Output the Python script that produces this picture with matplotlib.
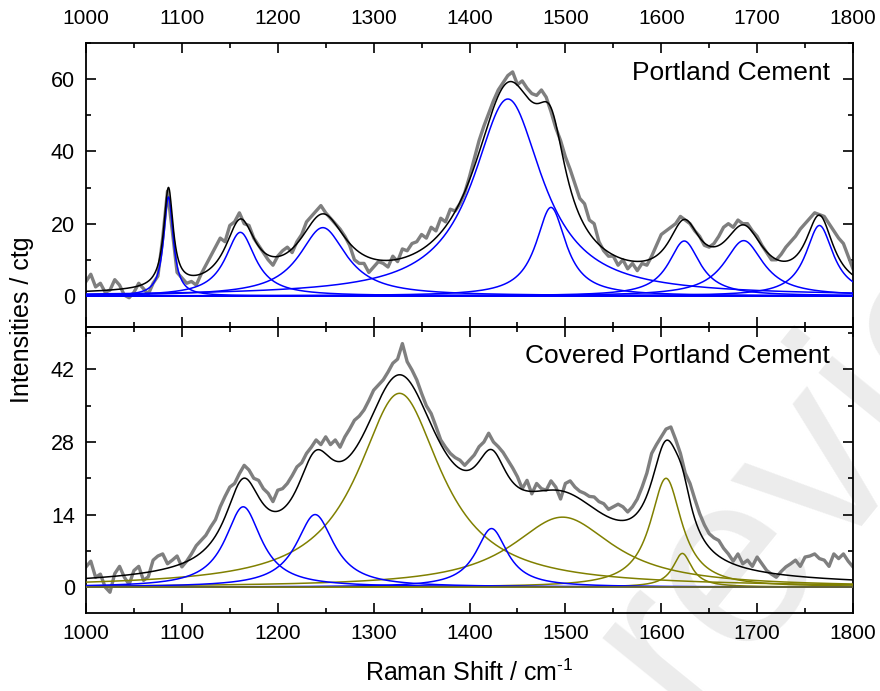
import numpy as np
import matplotlib
matplotlib.use("Agg")
import matplotlib.pyplot as plt
from matplotlib.ticker import MultipleLocator
from matplotlib import font_manager

# ---------------- data ----------------
raman_shift = np.arange(1000, 1801, 5)

portland_raw = [
    4.0, 6.0, 2.5, 3.5, 1.0, 1.6, 4.5, 3.0, 0.2, -0.5,
    1.0, 3.5, 2.0, 0.5, 3.5, 5.5, 16.0, 29.0, 18.0, 6.5,
    5.0, 3.5, 4.0, 3.0, 6.0, 8.5, 11.0, 13.5, 16.0, 15.0,
    19.5, 20.5, 23.0, 20.0, 19.5, 16.0, 14.0, 12.0, 10.0, 8.5,
    11.0, 12.5, 13.5, 12.0, 15.0, 17.0, 20.5, 22.0, 23.5, 25.0,
    23.0, 21.5, 20.0, 18.5, 16.5, 14.0, 10.0, 9.0, 9.0, 6.5,
    8.0, 9.5, 9.0, 8.0, 11.0, 9.5, 13.0, 12.5, 14.5, 15.0,
    17.0, 16.0, 19.0, 18.0, 21.5, 20.5, 24.0, 23.5, 25.5, 28.5,
    33.0, 38.0, 43.0, 47.0, 50.5, 54.0, 57.0, 59.0, 61.0, 62.0,
    58.5, 59.5, 57.5, 56.0, 55.5, 57.0, 55.0, 51.0, 46.5, 43.0,
    38.5, 35.0, 31.0, 27.0, 25.5, 21.0, 20.0, 15.0, 12.5, 11.0,
    11.0, 8.5, 10.0, 7.5, 9.0, 7.0, 9.0, 8.5, 11.0, 14.0,
    17.0, 18.0, 19.0, 20.0, 22.0, 21.0, 20.0, 18.0, 16.5, 14.0,
    13.5, 14.5, 16.5, 19.0, 20.0, 19.0, 21.0, 20.0, 20.0, 18.0,
    16.5, 14.0, 12.0, 10.0, 10.0, 11.5, 13.5, 15.0, 16.5, 18.5,
    20.0, 21.5, 23.0, 22.5, 22.0, 20.0, 18.0, 16.0, 14.5, 11.0,
    7.5,
]

covered_raw = [
    3.9, 5.0, 1.9, 2.5, 0.0, -1.0, 2.6, 4.0, 1.9, 0.5,
    3.2, 4.0, 1.3, 2.0, 5.2, 6.0, 6.4, 4.5, 5.2, 6.0,
    3.9, 5.0, 6.4, 8.0, 9.0, 10.0, 11.6, 13.0, 15.5, 17.5,
    19.3, 20.0, 21.9, 23.5, 22.6, 21.0, 20.6, 19.0, 18.1, 16.5,
    18.7, 19.0, 20.0, 21.5, 23.2, 24.0, 25.8, 27.0, 28.4, 27.5,
    29.0, 27.5, 28.4, 27.0, 29.0, 30.5, 32.2, 33.0, 34.2, 36.0,
    38.0, 39.0, 40.0, 41.5, 43.2, 44.0, 47.0, 43.5, 41.9, 40.0,
    37.4, 35.0, 33.5, 31.0, 28.4, 27.0, 25.8, 25.0, 24.5, 23.5,
    24.5, 25.5, 27.1, 28.0, 29.7, 28.0, 27.1, 26.0, 24.5, 23.0,
    21.3, 19.0, 20.6, 18.0, 20.0, 19.0, 18.7, 20.5, 19.3, 17.0,
    20.0, 20.5, 19.3, 18.5, 18.1, 17.5, 17.4, 16.5, 16.1, 15.0,
    15.5, 16.0, 15.5, 14.5, 15.5, 17.0, 19.3, 22.0, 25.8, 27.5,
    29.0, 30.5, 30.9, 28.5, 25.8, 22.0, 20.0, 17.0, 14.2, 12.0,
    10.3, 9.5, 9.0, 7.5, 6.4, 5.0, 6.4, 4.5, 5.2, 4.0,
    5.8, 4.5, 3.2, 2.5, 1.9, 3.0, 3.9, 4.5, 5.2, 4.0,
    5.8, 6.0, 6.4, 5.5, 5.2, 4.0, 6.4, 5.5, 6.4, 5.0,
    3.9,
]

# Lorentzian components (centre, height, half width at half maximum)
portland_centers = [1086, 1161, 1247, 1440, 1485, 1624, 1686, 1765]
portland_heights = [27.4, 17.6, 18.9, 54.5, 24.5, 15.2, 15.3, 19.5]
portland_hwhm = [6, 19, 30, 44, 19, 20, 25, 17.5]

covered_blue_centers = [1164, 1239, 1423]
covered_blue_heights = [15.5, 14.0, 11.3]
covered_blue_hwhm = [23, 24, 20]

covered_olive_centers = [1327, 1497, 1605, 1622]
covered_olive_heights = [37.4, 13.5, 21.0, 6.5]
covered_olive_hwhm = [53, 65, 20, 12]

x_ticks = [1000, 1100, 1200, 1300, 1400, 1500, 1600, 1700, 1800]
top_yticks = [0, 20, 40, 60]
bot_yticks = [0, 14, 28, 42]

# ---------------- style ----------------
avail = {f.name for f in font_manager.fontManager.ttflist}
base_font = "Liberation Sans" if "Liberation Sans" in avail else "DejaVu Sans"
plt.rcParams["font.family"] = [base_font, "DejaVu Sans"]
plt.rcParams["mathtext.fontset"] = "custom"
plt.rcParams["mathtext.rm"] = base_font
plt.rcParams["axes.linewidth"] = 1.3

BLUE = "#0000ff"
OLIVE = "#808000"
GRAY = "#7f7f7f"

xf = np.linspace(1000, 1800, 1601)


def lorentz(x, c, h, w):
    return h / (1.0 + ((x - c) / w) ** 2)


fig = plt.figure(figsize=(8.8, 6.91), dpi=100)
L, R = 86 / 880, 853 / 880
ax1 = fig.add_axes([L, 1 - 327 / 691, R - L, (327 - 43) / 691])
ax2 = fig.add_axes([L, 1 - 613 / 691, R - L, (613 - 327) / 691])
for ax in (ax1, ax2):
    ax.set_facecolor("none")

# watermark (partly outside the figure, as in the reference)
fig.text(688 / 880, -30 / 691, "review", transform=fig.transFigure,
         fontsize=178, color="#ececec", rotation=51, rotation_mode="anchor",
         ha="left", va="baseline", zorder=-5, family=base_font)

# ---- top panel ----
ax1.plot(raman_shift, portland_raw, color=GRAY, lw=2.4, zorder=2)
total = np.zeros_like(xf)
for c, h, w in zip(portland_centers, portland_heights, portland_hwhm):
    comp = lorentz(xf, c, h, w)
    total += comp
    ax1.plot(xf, comp, color=BLUE, lw=1.1, zorder=3)
ax1.axhline(0, color=BLUE, lw=1.3, zorder=3)
ax1.plot(xf, total, color="black", lw=1.1, zorder=4)
ax1.set_xlim(1000, 1800)
ax1.set_ylim(-8.6, 70)
ax1.set_yticks(top_yticks)
ax1.yaxis.set_minor_locator(MultipleLocator(10))
ax1.text(0.97, 0.893, "Portland Cement", transform=ax1.transAxes,
         ha="right", va="center", fontsize=19)

# ---- bottom panel ----
ax2.plot(raman_shift, covered_raw, color=GRAY, lw=2.4, zorder=2)
total2 = np.zeros_like(xf)
for c, h, w in zip(covered_olive_centers, covered_olive_heights, covered_olive_hwhm):
    comp = lorentz(xf, c, h, w)
    total2 += comp
    ax2.plot(xf, comp, color=OLIVE, lw=1.1, zorder=3)
for c, h, w in zip(covered_blue_centers, covered_blue_heights, covered_blue_hwhm):
    comp = lorentz(xf, c, h, w)
    total2 += comp
    ax2.plot(xf, comp, color=BLUE, lw=1.1, zorder=3)
ax2.axhline(0, color=OLIVE, lw=1.1, zorder=3)
ax2.plot(xf, total2, color="black", lw=1.1, zorder=4)
ax2.set_xlim(1000, 1800)
ax2.set_ylim(-5, 50.2)
ax2.set_yticks(bot_yticks)
ax2.yaxis.set_minor_locator(MultipleLocator(7))
ax2.text(0.97, 0.9, "Covered Portland Cement", transform=ax2.transAxes,
         ha="right", va="center", fontsize=19)

for ax in (ax1, ax2):
    ax.set_xticks(x_ticks)
    ax.xaxis.set_minor_locator(MultipleLocator(50))
    ax.tick_params(which="both", direction="in", top=True, right=True, width=1.2)
    ax.tick_params(which="major", length=7)
    ax.tick_params(which="minor", length=3.5)
    ax.tick_params(axis="y", labelsize=15.5, pad=8)

ax1.tick_params(axis="x", labelbottom=False, labeltop=True, labelsize=15, pad=11)
ax2.tick_params(axis="x", labelbottom=True, labeltop=False, labelsize=15, pad=8)

ax2.set_xlabel(r"Raman Shift / cm$^{\text{-1}}$", fontsize=18, labelpad=12)
fig.text(22 / 880, 1 - 320 / 691, "Intensities / ctg", rotation=90,
         ha="center", va="center", fontsize=18)

fig.savefig("out.png", dpi=100)
